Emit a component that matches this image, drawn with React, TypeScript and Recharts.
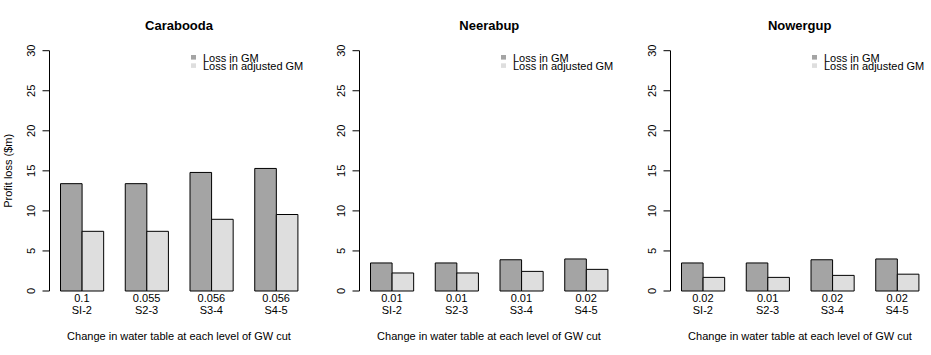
import React from 'react';
import { BarChart, Bar, XAxis, YAxis, Legend, Label } from 'recharts';

// level of GW cut
const categories = ['SI-2', 'S2-3', 'S3-4', 'S4-5'];
const yTicks = [0, 5, 10, 15, 20, 25, 30];

const caraboodaGM = [13.4, 13.4, 14.8, 15.3];
const caraboodaAdj = [7.45, 7.45, 8.95, 9.55];
const caraboodaWT = ['0.1', '0.055', '0.056', '0.056'];

const neerabupGM = [3.5, 3.5, 3.9, 4.0];
const neerabupAdj = [2.25, 2.25, 2.45, 2.7];
const neerabupWT = ['0.01', '0.01', '0.01', '0.02'];

const nowergupGM = [3.5, 3.5, 3.9, 4.0];
const nowergupAdj = [1.7, 1.7, 1.95, 2.1];
const nowergupWT = ['0.02', '0.01', '0.02', '0.02'];

const FONT = '"Liberation Sans", Arial, sans-serif';
const GM_FILL = '#a4a4a4';
const ADJ_FILL = '#dedede';

interface PanelProps {
  title: string;
  gm: number[];
  adj: number[];
  wt: string[];
  showYLabel?: boolean;
  left: number;
}

const YTick = (props: any) => {
  const cx = props.x - 9;
  return (
    <text
      x={cx}
      y={props.y}
      dy="0.36em"
      textAnchor="middle"
      fontSize={11}
      fill="#000"
      transform={`rotate(-90, ${cx}, ${props.y})`}
    >
      {props.payload.value}
    </text>
  );
};

const renderLegend = (props: any) => {
  const payload = props.payload || [];
  return (
    <svg width={130} height={22} style={{ display: 'block', overflow: 'visible' }}>
      {payload.map((entry: any, i: number) => (
        <g key={entry.value}>
          <rect x={0} y={3 + i * 8.3} width={5} height={4.6} fill={entry.color} />
          <text x={12} y={9.6 + i * 8.3} fontSize={11} fill="#000">
            {entry.value}
          </text>
        </g>
      ))}
    </svg>
  );
};

const Panel: React.FC<PanelProps> = ({ title, gm, adj, wt, showYLabel, left }) => {
  const data = categories.map((c, i) => ({ cat: c, gm: gm[i], adj: adj[i], wt: wt[i] }));

  const XTick = (props: any) => {
    const i = categories.indexOf(props.payload.value);
    return (
      <g>
        <text x={props.x} y={props.y + 10.7} textAnchor="middle" fontSize={11} fill="#000">
          {wt[i]}
        </text>
        <text x={props.x} y={props.y + 23.3} textAnchor="middle" fontSize={11} fill="#000">
          {props.payload.value}
        </text>
      </g>
    );
  };

  return (
    <div style={{ position: 'absolute', left, top: 0, width: 310, height: 355 }}>
      <div
        style={{
          position: 'absolute',
          left: 49.5,
          width: 259,
          top: 18,
          textAlign: 'center',
          fontWeight: 'bold',
          fontSize: 13,
          lineHeight: '15px',
        }}
      >
        {title}
      </div>
      <BarChart
        width={310}
        height={355}
        data={data}
        margin={{ top: 50.7, right: 1.5, bottom: 14, left: 9.5 }}
        barGap={0}
        barSize={21.58}
      >
        <XAxis
          dataKey="cat"
          height={50}
          axisLine={false}
          tickLine={false}
          tickSize={0}
          tickMargin={0}
          interval={0}
          tick={<XTick />}
        >
          <Label
            value="Change in water table at each level of GW cut"
            position="insideBottom"
            offset={1.5}
            fontSize={11}
            fill="#000"
          />
        </XAxis>
        <YAxis
          width={40}
          domain={[0, 30]}
          ticks={yTicks}
          interval={0}
          tickSize={7}
          axisLine={{ stroke: '#000' }}
          tickLine={{ stroke: '#000' }}
          tick={<YTick />}
        >
          {showYLabel && (
            <Label
              content={(p: any) => {
                const vb = p.viewBox || {};
                const cy = (vb.y ?? 50.7) + (vb.height ?? 240.3) / 2;
                return (
                  <text
                    x={8.5}
                    y={cy}
                    dy="0.36em"
                    textAnchor="middle"
                    fontSize={11}
                    fill="#000"
                    transform={`rotate(-90, 8.5, ${cy})`}
                  >
                    Profit loss ($m)
                  </text>
                );
              }}
            />
          )}
        </YAxis>
        <Legend
          layout="vertical"
          align="center"
          verticalAlign="middle"
          content={renderLegend}
          wrapperStyle={{ left: 191, top: 52, width: 130, height: 22 }}
        />
        <Bar dataKey="gm" name="Loss in GM" fill={GM_FILL} stroke="#000" strokeWidth={1} isAnimationActive={false} />
        <Bar dataKey="adj" name="Loss in adjusted GM" fill={ADJ_FILL} stroke="#000" strokeWidth={1} isAnimationActive={false} />
      </BarChart>
    </div>
  );
};

export default function App() {
  return (
    <div
      style={{
        position: 'absolute',
        left: 0,
        top: 0,
        width: 931,
        height: 355,
        background: '#fff',
        fontFamily: FONT,
        color: '#000',
      }}
    >
      <Panel title="Carabooda" gm={caraboodaGM} adj={caraboodaAdj} wt={caraboodaWT} showYLabel left={0} />
      <Panel title="Neerabup" gm={neerabupGM} adj={neerabupAdj} wt={neerabupWT} left={310.33} />
      <Panel title="Nowergup" gm={nowergupGM} adj={nowergupAdj} wt={nowergupWT} left={620.67} />
    </div>
  );
}
